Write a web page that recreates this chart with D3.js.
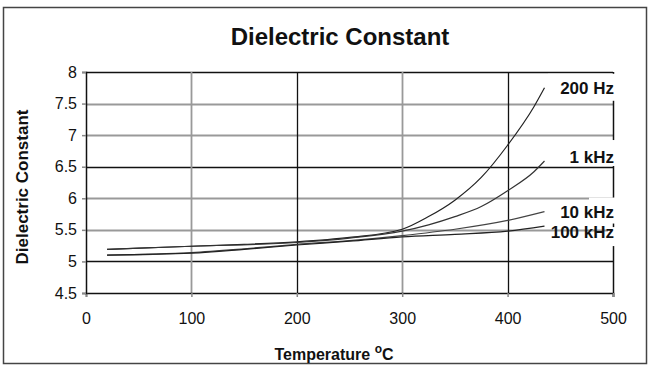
<!DOCTYPE html>
<html>
<head>
<meta charset="utf-8">
<script src="https://cdn.jsdelivr.net/npm/d3@7"></script>
<style>
  body { margin: 0; background: #fff; }
  svg text { font-family: "Liberation Sans", Arial, sans-serif; fill: #111; }
  .title { font-size: 24px; font-weight: bold; }
  .axisTitle { font-size: 16px; font-weight: bold; }
  .seriesLabel { font-size: 17px; font-weight: bold; }
</style>
</head>
<body>
<div id="chart"></div>
<script>

// data
var temps200 = [20, 50, 100, 150, 200, 250, 300, 325, 350, 375, 400, 425, 435];
var vals200  = [5.19, 5.21, 5.24, 5.27, 5.31, 5.38, 5.51, 5.71, 5.97, 6.33, 6.84, 7.45, 7.75];

var temps1k = [20, 100, 200, 250, 300, 325, 350, 375, 400, 425, 435];
var vals1k  = [5.19, 5.24, 5.30, 5.37, 5.48, 5.58, 5.71, 5.87, 6.12, 6.42, 6.59];

var temps10k = [20, 100, 150, 200, 250, 300, 350, 400, 435];
var vals10k  = [5.10, 5.14, 5.20, 5.27, 5.33, 5.41, 5.51, 5.65, 5.79];

var temps100k = [20, 100, 150, 200, 250, 300, 350, 400, 435];
var vals100k  = [5.10, 5.13, 5.19, 5.26, 5.32, 5.39, 5.43, 5.48, 5.56];

var seriesNames = ["200 Hz", "1 kHz", "10 kHz", "100 kHz"];

var xTicks = [0, 100, 200, 300, 400, 500];
var yTicks = [4.5, 5, 5.5, 6, 6.5, 7, 7.5, 8];


var W = 650, H = 367;
var margin = { top: 72, right: 37, bottom: 74, left: 86 };
var width = W - margin.left - margin.right,
    height = H - margin.top - margin.bottom;

var svg = d3.select("#chart").append("svg")
    .attr("width", W)
    .attr("height", H);

// outer frame
svg.append("rect")
    .attr("x", 3.5).attr("y", 7.5)
    .attr("width", 643).attr("height", 356)
    .attr("fill", "none")
    .attr("stroke", "#444")
    .attr("stroke-width", 1.5);

svg.append("text")
    .attr("class", "title")
    .attr("x", 340).attr("y", 45)
    .attr("text-anchor", "middle")
    .text("Dielectric Constant");

var g = svg.append("g")
    .attr("transform", "translate(" + margin.left + "," + margin.top + ")");

var x = d3.scaleLinear().domain([0, 500]).range([0, width]);
var y = d3.scaleLinear().domain([4.5, 8]).range([height, 0]);

// grid (the scan shows alternating grey / black lines)
var darkY = [5, 6.5, 8];
g.selectAll(".hgrid")
    .data(yTicks.filter(function (d) { return d > 4.5; }))
    .enter().append("line")
    .attr("class", "hgrid")
    .attr("x1", 0).attr("x2", width)
    .attr("y1", function (d) { return Math.round(y(d)) + 0.5; })
    .attr("y2", function (d) { return Math.round(y(d)) + 0.5; })
    .attr("stroke", function (d) { return darkY.indexOf(d) >= 0 ? "#111" : "#999"; })
    .attr("stroke-width", function (d) { return darkY.indexOf(d) >= 0 ? 1.3 : 1.8; });

var darkX = [200, 400];
g.selectAll(".vgrid")
    .data([100, 200, 300, 400])
    .enter().append("line")
    .attr("class", "vgrid")
    .attr("y1", 0).attr("y2", height)
    .attr("x1", function (d) { return Math.round(x(d)) + 0.5; })
    .attr("x2", function (d) { return Math.round(x(d)) + 0.5; })
    .attr("stroke", function (d) { return darkX.indexOf(d) >= 0 ? "#111" : "#999"; })
    .attr("stroke-width", function (d) { return darkX.indexOf(d) >= 0 ? 1.3 : 1.8; });

// right border
g.append("line")
    .attr("x1", width + 0.5).attr("x2", width + 0.5)
    .attr("y1", 0).attr("y2", height + 4)
    .attr("stroke", "#111").attr("stroke-width", 1.5);

// axes
var xAxis = d3.axisBottom(x).tickValues(xTicks).tickSize(4).tickFormat(d3.format("d"));
var yAxis = d3.axisLeft(y).tickValues(yTicks).tickSize(4).tickFormat(function (d) { return d; });

var gx = g.append("g")
    .attr("transform", "translate(0," + height + ")")
    .call(xAxis);
var gy = g.append("g").call(yAxis);

[gx, gy].forEach(function (a) {
    a.select(".domain").attr("stroke", "#111").attr("stroke-width", 1.5);
    a.selectAll(".tick line").attr("stroke", "#888").attr("stroke-width", 1.5);
    a.selectAll(".tick text").attr("fill", "#111")
        .style("font-family", '"Liberation Sans", Arial, sans-serif')
        .style("font-size", "16px");
});
gx.selectAll(".tick text").attr("y", 17).attr("dy", "0.9em");
gy.selectAll(".tick text").attr("x", -9);

// curves
var series = [
    { t: temps200, v: vals200 },
    { t: temps1k, v: vals1k },
    { t: temps10k, v: vals10k },
    { t: temps100k, v: vals100k }
];

var line = d3.line()
    .x(function (d) { return x(d[0]); })
    .y(function (d) { return y(d[1]); })
    .curve(d3.curveMonotoneX);

var lineColors = ["#222", "#333", "#444", "#222"];
series.forEach(function (s, i) {
    g.append("path")
        .datum(d3.zip(s.t, s.v))
        .attr("d", line)
        .attr("fill", "none")
        .attr("stroke", lineColors[i])
        .attr("stroke-width", 1.2);
});

// series labels at curve ends, white backing like the original
var labelDy = [0, -4, 0, 6];
var labelBg = [
    { x0: 462, x1: 532, y0: -14, y1: 13 },
    { x0: 472, x1: 532, y0: -17, y1: 9 },
    { x0: 503, x1: 532, y0: -14, y1: 12 },
    { x0: 522, x1: 532, y0: -5, y1: 14 }
];
series.forEach(function (s, i) {
    var ly = y(s.v[s.v.length - 1]) + labelDy[i];
    var b = labelBg[i];
    g.append("rect")
        .attr("x", b.x0).attr("y", ly + b.y0)
        .attr("width", b.x1 - b.x0).attr("height", b.y1 - b.y0)
        .attr("fill", "#fff");
    g.append("text")
        .attr("class", "seriesLabel")
        .attr("x", width + 1)
        .attr("y", ly)
        .attr("dy", "0.36em")
        .attr("text-anchor", "end")
        .text(seriesNames[i]);
});

// axis titles
svg.append("text")
    .attr("class", "axisTitle")
    .style("font-size", "17px")
    .attr("transform", "translate(28,187) rotate(-90)")
    .attr("text-anchor", "middle")
    .text("Dielectric Constant");

var xt = svg.append("text")
    .attr("class", "axisTitle")
    .attr("x", 334)
    .attr("y", 360)
    .attr("text-anchor", "middle");
xt.append("tspan").text("Temperature ");
xt.append("tspan").attr("dy", -7).style("font-size", "12px").text("o");
xt.append("tspan").attr("dy", 7).text("C");

</script>
</body>
</html>
